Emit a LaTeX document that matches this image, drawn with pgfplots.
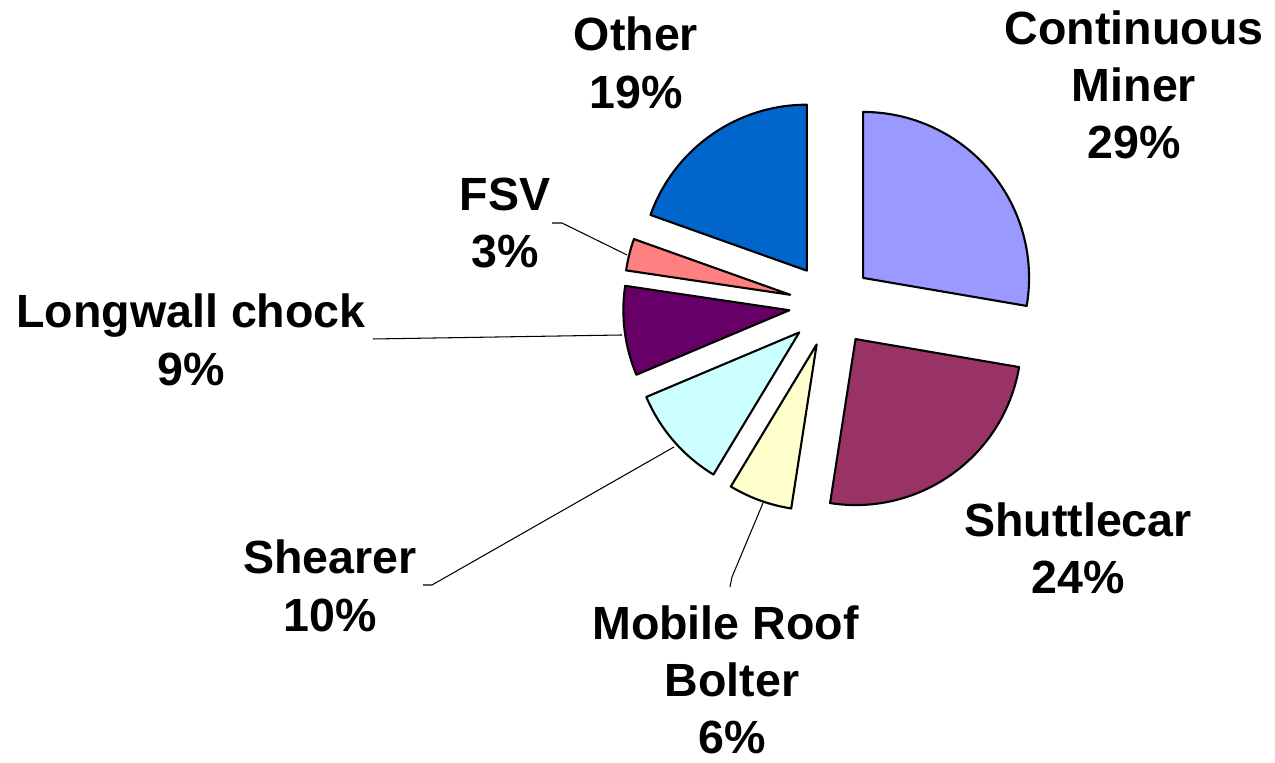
\documentclass[border=0pt]{standalone}
\usepackage{fontspec}
\setmainfont{Liberation Sans}
\usepackage{pgfplots}
\usepackage{pgfplotstable}
\pgfplotsset{compat=1.18}

\definecolor{cminer}{HTML}{9999FF}
\definecolor{shuttle}{HTML}{993366}
\definecolor{bolter}{HTML}{FFFFCC}
\definecolor{shearer}{HTML}{CCFFFF}
\definecolor{chock}{HTML}{660066}
\definecolor{fsv}{HTML}{FF8080}
\definecolor{other}{HTML}{0066CC}

% slices clockwise from 12 o'clock; share in percent (as drawn)
\pgfplotstableread[col sep=comma]{
name,share,colour
Continuous Miner,27.7,cminer
Shuttlecar,24.75,shuttle
Mobile Roof Bolter,6.2,bolter
Shearer,10.0,shearer
Longwall chock,8.7,chock
FSV,3.1,fsv
Other,19.55,other
}\piedata

\newcommand\lbl{\fontsize{26.5}{32.6}\selectfont\bfseries}

\begin{document}
\begin{tikzpicture}
\begin{axis}[
    x=0.02cm, y=0.02cm,
    xmin=0, xmax=1275, ymin=0, ymax=763,
    hide axis, clip=false,
]
\path (axis cs:0,0) rectangle (axis cs:1275,763);

% leader lines
\draw[line width=0.6pt] (axis cs:552,540) -- (axis cs:562,540) -- (axis cs:627,508);
\draw[line width=0.6pt] (axis cs:373,424) -- (axis cs:622,428);
\draw[line width=0.6pt] (axis cs:423,178) -- (axis cs:432,178) -- (axis cs:674,316);
\draw[line width=0.6pt] (axis cs:730,176) -- (axis cs:732,186) -- (axis cs:763,260);

% exploded pie
\pgfplotsextra{
  \gdef\angstart{90}
  \foreach \i in {0,...,6}{
    \pgfplotstablegetelem{\i}{share}\of\piedata
    \pgfmathsetmacro\sweep{3.6*\pgfplotsretval}
    \pgfplotstablegetelem{\i}{colour}\of\piedata
    \let\fc\pgfplotsretval
    \pgfmathsetmacro\aend{\angstart-\sweep}
    \pgfmathsetmacro\amid{\angstart-\sweep/2}
    \pgfmathsetmacro\ax{831+42*cos(\amid)}
    \pgfmathsetmacro\ay{458+42*sin(\amid)}
    \filldraw[fill=\fc, draw=black, line width=1.2pt, line join=round]
      (axis cs:\ax,\ay) -- ++(\angstart:3.32cm)
      arc[start angle=\angstart, end angle=\aend, radius=3.32cm] -- cycle;
    \xdef\angstart{\aend}
  }
}

% data labels
\node[font=\lbl, align=center, inner sep=0pt] at (axis cs:636,700) {Other\\19\%};
\node[font=\lbl, align=center, inner sep=0pt] at (axis cs:1134,678) {Continuous\\Miner\\29\%};
\node[font=\lbl, align=center, inner sep=0pt] at (axis cs:1078,215) {Shuttlecar\\24\%};
\node[font=\lbl, align=center, inner sep=0pt] at (axis cs:732,83) {Mobile Roof\hspace*{0.28em}\\Bolter\\6\%};
\node[font=\lbl, align=center, inner sep=0pt] at (axis cs:330,177) {Shearer\\10\%};
\node[font=\lbl, align=center, inner sep=0pt] at (axis cs:191,423) {Longwall chock\\9\%};
\node[font=\lbl, align=center, inner sep=0pt] at (axis cs:505,540) {FSV\\3\%};
\end{axis}
\end{tikzpicture}
\end{document}
